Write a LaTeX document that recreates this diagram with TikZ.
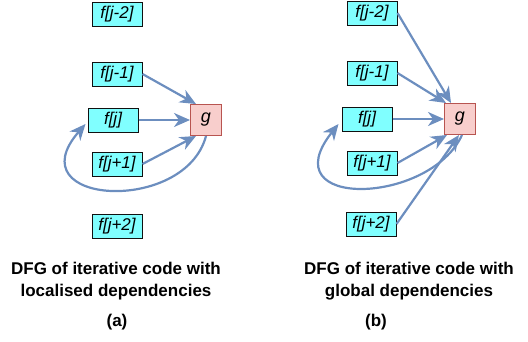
\documentclass[tikz,border=0pt]{standalone}
\usepackage{fontspec}
\setmainfont{Liberation Sans}
\usetikzlibrary{
    arrows.meta,
    positioning,
    calc
}
\definecolor{edge}{HTML}{6C8EBF}
\definecolor{value}{HTML}{80FFFF}
\definecolor{funcfill}{HTML}{F8CECC}
\definecolor{funcdraw}{HTML}{B85450}
\definecolor{dark}{HTML}{111111}
\tikzset{
    % Array element style
    elem/.style={
        rectangle,
        minimum width=50pt,
        minimum height=24pt,
        inner sep=0pt,
        align=center,
        font=\fontsize{17}{20}\selectfont\itshape,
        draw=dark,
        fill=value,
        line width=1pt
    },
    % Function node style
    func/.style={
        rectangle,
        minimum width=31pt,
        minimum height=31pt,
        inner sep=0pt,
        font=\fontsize{18}{20}\selectfont\itshape,
        draw=funcdraw,
        fill=funcfill,
        line width=1pt
    },
    % Dependency arrow style
    dep/.style={
        -{Stealth[length=16pt, width=14pt, inset=5pt]},
        line width=2.2pt,
        color=edge
    },
    % Caption style
    caption text/.style={
        font=\fontsize{17}{22}\selectfont\bfseries,
        text=black,
        align=center
    }
}
\begin{document}
\begin{tikzpicture}[x=1pt, y=-1pt]
    \useasboundingbox (0,0) rectangle (528,341);

    % (a) localised dependencies
    \node[elem] (fm2a) at (117,14) {f[j-2]};
    \node[elem] (fm1a) at (117,74) {f[j-1]};
    \node[elem] (f0a) at (113,120) {f[j]};
    \node[elem] (fp1a) at (117,164) {f[j+1]};
    \node[elem] (fp2a) at (117,226) {f[j+2]};
    \node[func] (ga) at (206,120) {g};

    \draw[dep] (fm1a.east) -- ($(ga.north west)+(6,0)$);
    \draw[dep] (f0a.east) -- (ga.west);
    \draw[dep] (fp1a.east) -- ($(ga.south west)+(6,0)$);
    \draw[dep] (ga.south) .. controls (185,215) and (15,205) .. ($(f0a.west)+(-2,4)$);

    \node[caption text] (capa) at (116,281) {DFG of iterative code with\\localised dependencies};
    \node[caption text] (laba) at (117,322) {(a)};

    % (b) global dependencies
    \node[elem] (fm2b) at (372,13) {f[j-2]};
    \node[elem] (fm1b) at (372,73) {f[j-1]};
    \node[elem] (f0b) at (367,119) {f[j]};
    \node[elem] (fp1b) at (372,163) {f[j+1]};
    \node[elem] (fp2b) at (371,224) {f[j+2]};
    \node[func] (gb) at (460,119) {g};

    \draw[dep] (fm2b.east) -- ($(gb.north west)+(7,0)$);
    \draw[dep] (fm1b.east) -- ($(gb.north west)+(2,0)$);
    \draw[dep] (f0b.east) -- (gb.west);
    \draw[dep] (fp1b.east) -- ($(gb.south west)+(3,0)$);
    \draw[dep] (fp2b.east) -- ($(gb.south)+(-1,0)$);
    \draw[dep] ($(gb.south)+(2,0)$) .. controls (430,205) and (270,210) .. ($(f0b.west)+(-3,5)$);

    \node[caption text] (capb) at (409,281) {DFG of iterative code with\\global dependencies};
    \node[caption text] (labb) at (376,322) {(b)};
\end{tikzpicture}
\end{document}
